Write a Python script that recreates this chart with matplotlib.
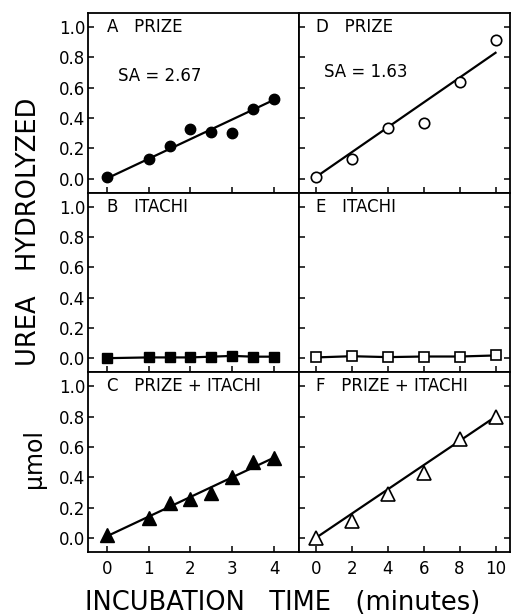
import numpy as np
import matplotlib.pyplot as plt

# left column: 0-4 min, right column: 0-10 min
x_left = [0, 1, 1.5, 2, 2.5, 3, 3.5, 4]
x_right = [0, 2, 4, 6, 8, 10]

prize_a = [0.01, 0.126, 0.214, 0.33, 0.305, 0.302, 0.457, 0.526]
itachi_b = [0.0, 0.005, 0.005, 0.005, 0.01, 0.015, 0.01, 0.01]
mix_c = [0.018, 0.128, 0.227, 0.258, 0.293, 0.403, 0.502, 0.525]

prize_d = [0.011, 0.128, 0.331, 0.369, 0.636, 0.916]
itachi_e = [0.005, 0.013, 0.007, 0.011, 0.011, 0.018]
mix_f = [0.0, 0.11, 0.29, 0.43, 0.65, 0.80]

# fitted lines (value at t=0 and at the last time point)
fit_a = [0.0, 0.52]
fit_c = [0.01, 0.53]
fit_d = [0.01, 0.83]
fit_f = [0.0, 0.80]

panel_titles = [["A   PRIZE", "D   PRIZE"],
                ["B   ITACHI", "E   ITACHI"],
                ["C   PRIZE + ITACHI", "F   PRIZE + ITACHI"]]
sa_text = ["SA = 2.67", "SA = 1.63"]

plt.rcParams['font.family'] = ['DejaVu Sans']

fig, axes = plt.subplots(3, 2, figsize=(5.14, 6.16), dpi=100,
                         sharey=True, sharex='col',
                         gridspec_kw=dict(hspace=0, wspace=0))
fig.subplots_adjust(left=0.171, right=0.992, top=0.979, bottom=0.104)

k = dict(color='black', lw=1.6)

ax = axes[0, 0]
ax.plot(x_left, prize_a, 'o', ms=7.5, mfc='black', mec='black')
ax.plot([x_left[0], x_left[-1]], fit_a, **k)
ax = axes[1, 0]
ax.plot(x_left, itachi_b, 's-', ms=6.5, mfc='black', mec='black', **k)
ax = axes[2, 0]
ax.plot(x_left, mix_c, '^', ms=9.5, mfc='black', mec='black')
ax.plot([x_left[0], x_left[-1]], fit_c, **k)

ax = axes[0, 1]
ax.plot([x_right[0], x_right[-1]], fit_d, **k)
ax.plot(x_right, prize_d, 'o', ms=7.5, mfc='white', mec='black', mew=1.2)
ax = axes[1, 1]
ax.plot(x_right, itachi_e, 's-', ms=6.5, mfc='white', mec='black', mew=1.2, **k)
ax = axes[2, 1]
ax.plot([x_right[0], x_right[-1]], fit_f, **k)
ax.plot(x_right, mix_f, '^', ms=9.5, mfc='white', mec='black', mew=1.2)

for i in range(3):
    for j in range(2):
        ax = axes[i, j]
        for s in ax.spines.values():
            s.set_linewidth(1.3)
        ax.set_ylim(-0.093, 1.093)
        ax.set_yticks(np.arange(0, 1.01, 0.2))
        ax.tick_params(direction='in', length=4, width=1.1, labelsize=12, pad=2)
        if j == 1:
            ax.tick_params(axis='y', right=True)
        ax.text(0, 1.0, panel_titles[i][j], fontsize=12, ha='left', va='center')
    axes[i, 0].set_yticklabels(['0.0', '0.2', '0.4', '0.6', '0.8', '1.0'])

axes[0, 0].text(0.27, 0.68, sa_text[0], fontsize=12, ha='left', va='center')
axes[0, 1].text(0.45, 0.70, sa_text[1], fontsize=12, ha='left', va='center')

axes[2, 0].set_xlim(-0.45, 4.59)
axes[2, 0].set_xticks([0, 1, 2, 3, 4])
axes[2, 1].set_xlim(-0.95, 10.8)
axes[2, 1].set_xticks(x_right)
for ax in axes[2]:
    ax.tick_params(axis='x', pad=6)

fig.text(29 / 514, 1 - 232 / 616, "UREA   HYDROLYZED", rotation=90,
         fontsize=18.5, ha='center', va='center')
fig.text(34 / 514, 1 - 459 / 616, "\u00b5mol", rotation=90,
         fontsize=17, ha='center', va='center')
fig.text(283 / 514, 1 - 603 / 616, "INCUBATION   TIME   (minutes)",
         fontsize=18.5, ha='center', va='center')

plt.savefig("out.png")
